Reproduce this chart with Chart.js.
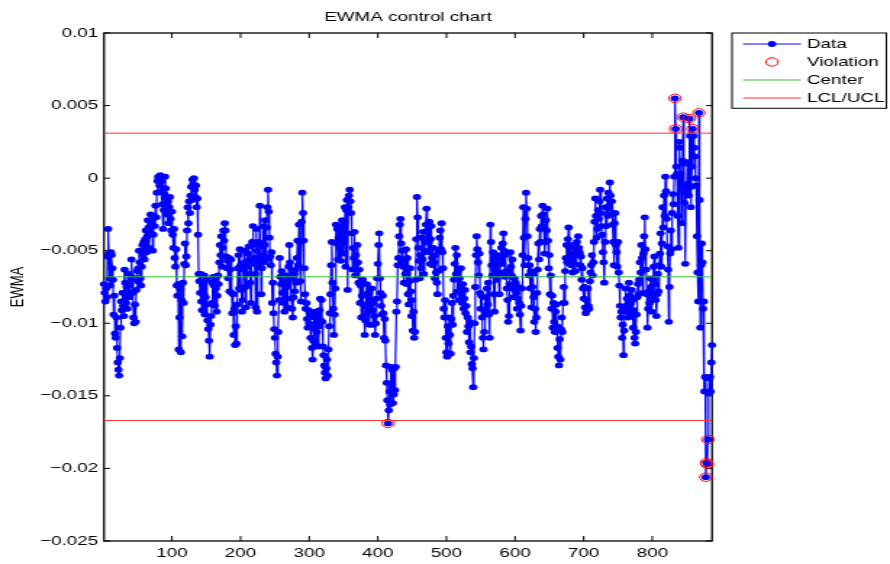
<!DOCTYPE html>
<html><head><meta charset="utf-8">
<script src="https://cdn.jsdelivr.net/npm/chart.js@4.4.1/dist/chart.umd.min.js"></script>
<style>html,body{margin:0;padding:0;background:#fff;overflow:hidden}</style>
</head><body>
<canvas id="c" width="614" height="564" style="width:890px;height:564px;display:block"></canvas>
<script>
// EWMA statistic per sample (sample number = position + 1)
const ewma = [
-.0073,-.0079,-.0085,-.0076,-.0082,-.0054,-.0035,-.0052,-.0069,-.0074,
-.0051,-.0053,-.0062,-.007,-.0094,-.0081,-.0107,-.011,-.0096,-.0117,
-.0127,-.0132,-.0136,-.0124,-.0103,-.0085,-.0091,-.0079,-.0088,-.0095,
-.0063,-.0072,-.0086,-.0075,-.009,-.0078,-.0066,-.0082,-.0074,-.0069,
-.0056,-.0068,-.0079,-.0096,-.01,-.0087,-.0099,-.0077,-.0064,-.0071,
-.0062,-.005,-.0058,-.0069,-.0074,-.0061,-.0046,-.0053,-.0044,-.0056,
-.0042,-.0036,-.0051,-.004,-.0029,-.0034,-.0048,-.0037,-.0025,-.0032,
-.003,-.005,-.0039,-.0026,-.0033,-.0019,-.0027,-.001,-.0002,.0001,
0,-.0005,.0002,-.0009,-.0002,-.0018,-.0035,-.0022,-.0011,.0001,
-.0007,-.0014,-.0025,-.0016,-.0031,-.002,-.0013,-.0028,-.0036,-.0023,
-.0039,-.0048,-.0035,-.0055,-.0061,-.0049,-.0074,-.0081,-.0073,-.0118,
-.0096,-.0076,-.012,-.0084,-.0109,-.0072,-.0086,-.0059,-.0045,-.006,
-.0054,-.0036,-.002,-.0031,-.0016,-.0024,-.0012,-.0006,-.0015,-.0001,
-.0004,0,-.0008,-.0013,-.0005,-.002,-.0014,-.0039,-.0066,-.0071,
-.0079,-.0066,-.0085,-.0091,-.0073,-.008,-.0067,-.0094,-.0082,-.007,
-.0087,-.0098,-.0104,-.0112,-.0123,-.0101,-.0095,-.0086,-.0072,-.0068,
-.0074,-.0088,-.0069,-.0076,-.0092,-.0081,-.0067,-.0073,-.0058,-.0046,
-.0053,-.004,-.0061,-.0048,-.0036,-.0043,-.0031,-.0036,-.0054,-.0062,
-.0057,-.0069,-.0055,-.0078,-.0063,-.0056,-.0079,-.0093,-.008,-.0108,
-.009,-.0115,-.0102,-.0114,-.0087,-.0062,-.0053,-.0076,-.0049,-.006,
-.0077,-.0092,-.0084,-.0063,-.005,-.0058,-.0075,-.0089,-.0066,-.0052,
-.0061,-.0047,-.0056,-.0072,-.0086,-.0059,-.0044,-.0033,-.0046,-.0055,
-.0066,-.0089,-.0035,-.0092,-.005,-.0044,-.006,-.0019,-.0047,-.008,
-.0062,-.0053,-.0033,-.0058,-.0046,-.0029,-.0056,-.0034,-.002,-.0008,
-.0023,-.0041,-.0054,-.006,-.0051,-.0086,-.0072,-.0093,-.0104,-.011,
-.0121,-.0127,-.0136,-.0123,-.0106,-.0084,-.0055,-.0068,-.0073,-.0064,
-.0079,-.0086,-.0071,-.0092,-.0083,-.0067,-.0075,-.0089,-.0072,-.0061,
-.0046,-.0058,-.0069,-.0083,-.009,-.0096,-.0082,-.0066,-.0078,-.0063,
-.0072,-.0055,-.0043,-.006,-.0032,-.0044,-.0071,-.0085,-.003,-.001,
-.0024,-.0043,-.0062,-.008,-.009,-.0086,-.0097,-.0103,-.0091,-.01,
-.0093,-.011,-.0101,-.0117,-.0125,-.0112,-.0096,-.0104,-.0092,-.0115,
-.0106,-.0094,-.0116,-.0102,-.0091,-.0083,-.0098,-.0084,-.0099,-.0116,
-.0122,-.0129,-.0134,-.0138,-.0131,-.0125,-.0136,-.0118,-.0102,-.0093,
-.008,-.006,-.0044,-.0072,-.009,-.0108,-.0094,-.0076,-.0032,-.0045,
-.0035,-.0056,-.0041,-.0033,-.0048,-.0057,-.0039,-.0029,-.0044,-.0052,
-.003,-.002,-.0061,-.0022,-.0015,-.0077,-.002,-.0012,-.0008,-.0016,
-.0024,-.0038,-.0063,-.0048,-.0055,-.0037,-.0067,-.0053,-.0059,-.0046,
-.0058,-.0072,-.0063,-.0086,-.0074,-.0096,-.0081,-.007,-.0087,-.0095,
-.0108,-.0098,-.008,-.0073,-.0089,-.0092,-.0079,-.0101,-.009,-.0084,
-.0076,-.0091,-.0101,-.0086,-.0095,-.0108,-.01,-.0083,-.0069,-.0059,
-.0046,-.0038,-.0069,-.0079,-.0088,-.0094,-.0081,-.0093,-.011,-.0097,
-.0112,-.0129,-.0141,-.0153,-.0169,-.016,-.0147,-.0156,-.013,-.0144,
-.0132,-.0155,-.0149,-.0131,-.0146,-.013,-.0092,-.0085,-.006,-.0055,
-.004,-.0032,-.0028,-.0045,-.0058,-.005,-.0061,-.0072,-.0056,-.0066,
-.0049,-.0073,-.0055,-.008,-.0087,-.0071,-.0062,-.0078,-.0095,-.0084,
-.0105,-.0092,-.011,-.0106,-.007,-.0042,-.0013,-.0027,-.0048,-.0057,
-.0069,-.0053,-.0062,-.0041,-.0056,-.0037,-.0066,-.005,-.0044,-.0032,
-.0021,-.0036,-.0051,-.0044,-.003,-.0059,-.0042,-.0033,-.0055,-.006,
-.0048,-.0058,-.0069,-.0053,-.0065,-.0072,-.008,-.0064,-.005,-.0041,
-.0036,-.0049,-.0031,-.0051,-.0062,-.009,-.0096,-.0084,-.011,-.012,
-.0123,-.0102,-.0114,-.0096,-.0108,-.0121,-.0097,-.0086,-.0101,-.0081,
-.007,-.0059,-.0048,-.0066,-.0053,-.0078,-.0064,-.0084,-.0069,-.0075,
-.0062,-.008,-.0086,-.0073,-.009,-.0083,-.0077,-.0093,-.0088,-.0106,
-.0096,-.0102,-.0113,-.0099,-.012,-.0116,-.0128,-.0131,-.0144,-.0124,
-.01,-.0075,-.0053,-.004,-.0049,-.0058,-.0067,-.0052,-.0079,-.009,
-.0081,-.0096,-.011,-.0118,-.0106,-.0093,-.0082,-.0091,-.0076,-.0087,
-.0072,-.0094,-.011,-.0032,-.0044,-.006,-.0067,-.0051,-.008,-.0092,
-.0063,-.0054,-.007,-.006,-.0053,-.0066,-.008,-.0065,-.0055,-.0048,
-.0059,-.0045,-.0038,-.005,-.0068,-.0053,-.0064,-.0076,-.0084,-.0099,
-.0095,-.0073,-.0051,-.0061,-.0067,-.0056,-.0076,-.0082,-.0069,-.0077,
-.0072,-.0079,-.009,-.0083,-.0075,-.0086,-.0094,-.0105,-.0088,-.0076,
-.0053,-.002,-.0041,-.006,-.0028,-.001,-.0021,-.004,-.0055,-.0067,
-.006,-.0076,-.0064,-.0089,-.0075,-.0066,-.0082,-.0099,-.009,-.0106,
-.0096,-.0079,-.0063,-.0045,-.0056,-.0035,-.0044,-.0026,-.0033,-.0019,
-.0025,-.0034,-.0052,-.0044,-.0029,-.0036,-.0021,-.0043,-.0062,-.0053,
-.008,-.0067,-.009,-.0081,-.0103,-.0086,-.0099,-.0106,-.0092,-.0087,
-.0102,-.0117,-.0123,-.0129,-.0111,-.0125,-.0104,-.0096,-.0106,-.0086,
-.0075,-.0086,-.0064,-.0055,-.0046,-.0058,-.0042,-.0034,-.0048,-.0059,
-.0046,-.006,-.0052,-.0065,-.0056,-.0047,-.0059,-.0064,-.005,-.0044,
-.0053,-.004,-.0048,-.0051,-.006,-.0054,-.007,-.0062,-.0076,-.0083,
-.0075,-.0089,-.0093,-.0084,-.0091,-.0076,-.0088,-.009,-.0071,-.0065,
-.006,-.0053,-.0067,-.0058,-.0044,-.003,-.0014,-.0026,-.0041,-.0035,
-.0022,-.0028,-.0016,-.0008,-.0024,-.0033,-.0039,-.0051,-.0058,-.0072,
-.0044,-.002,-.0033,-.0014,-.0026,-.001,-.0021,-.0003,-.0012,-.0025,
-.0016,-.0032,-.0044,-.006,-.0031,-.0024,-.0046,-.0051,-.0061,-.0044,
-.0065,-.0074,-.0088,-.0096,-.0092,-.011,-.0101,-.0122,-.0105,-.0089,
-.0076,-.0092,-.0083,-.0087,-.0096,-.0072,-.0081,-.0094,-.0086,-.0077,
-.0084,-.0103,-.0091,-.011,-.0114,-.0106,-.0094,-.0082,-.0073,-.008,
-.007,-.0058,-.0065,-.0046,-.0055,-.0079,-.0052,-.004,-.0027,-.0049,
-.0063,-.008,-.0103,-.009,-.0078,-.0086,-.0069,-.0075,-.0092,-.0081,
-.007,-.0061,-.0054,-.0073,-.0084,-.0095,-.008,-.0066,-.0078,-.006,
-.0052,-.0038,-.0061,-.0045,-.002,-.0034,-.0012,-.0026,.0001,-.0009,
-.0028,-.0047,-.0063,-.0099,-.0075,-.0052,-.0036,-.0049,-.0024,-.0011,
-.0018,.0001,.0055,.0034,.0008,.0003,-.0026,-.0048,.0025,.0021,
.0003,-.0006,-.0031,.0012,.0042,.001,-.0017,-.0059,-.0005,-.001,
.0011,-.0004,-.0012,.0041,.0029,-.002,-.0006,.0008,.0034,.0029,
.0021,.0015,0,-.0005,-.004,-.0065,-.0085,.0045,-.0015,-.0103,
-.006,-.0045,-.0058,-.009,-.0085,-.0147,-.0137,-.0206,-.0196,-.0197,
-.018,-.0148,-.0138,-.0137,-.0147,-.0127,-.0115
];
const centerValue = -0.0068;
const uclValue = 0.0031;
const lclValue = -0.0167;
const xTicks = [100, 200, 300, 400, 500, 600, 700, 800];
const yTicks = [-0.025, -0.02, -0.015, -0.01, -0.005, 0, 0.005, 0.01];
const legendLabels = ['Data', 'Violation', 'Center', 'LCL/UCL'];
const chartTitle = 'EWMA control chart';
const yAxisTitle = 'EWMA';

const N = ewma.length;
const FONT = "'Liberation Sans', Arial, Helvetica, sans-serif";
const SX = 890 / 614;               // horizontal stretch of the displayed canvas
const BLUE = '#0000ff', RED = '#ff0000', GREEN = '#2fbf2f', LIMIT = '#ff3030';

const dataPts = ewma.map((v, i) => ({x: i + 1, y: v}));
const violPts = dataPts.filter(p => p.y > uclValue || p.y < lclValue);

const fmtY = v => String(Math.round(v * 1000) / 1000).replace('-', '\u2212');

const framePlugin = {
  id: 'frame',
  beforeDatasetsDraw(chart) {
    const {ctx, chartArea: a, scales: {x, y}} = chart;
    ctx.save();
    ctx.strokeStyle = '#000';
    ctx.lineWidth = 1.3;
    ctx.strokeRect(a.left, a.top, a.right - a.left, a.bottom - a.top);
    ctx.lineWidth = 1;
    ctx.beginPath();
    const tv = 5, th = 6 / SX;
    x.ticks.forEach(t => {
      const px = x.getPixelForValue(t.value);
      ctx.moveTo(px, a.bottom); ctx.lineTo(px, a.bottom - tv);
      ctx.moveTo(px, a.top); ctx.lineTo(px, a.top + tv);
    });
    y.ticks.forEach(t => {
      const py = y.getPixelForValue(t.value);
      ctx.moveTo(a.left, py); ctx.lineTo(a.left + th, py);
      ctx.moveTo(a.right, py); ctx.lineTo(a.right - th, py);
    });
    ctx.stroke();
    ctx.restore();
  },
  afterDraw(chart) {
    const ctx = chart.ctx;
    ctx.save();
    const L = {left: 505, top: 33, right: 611.5, bottom: 108.3};
    ctx.fillStyle = '#fff';
    ctx.fillRect(L.left, L.top, L.right - L.left, L.bottom - L.top);
    ctx.strokeStyle = '#000';
    ctx.lineWidth = 1;
    ctx.strokeRect(L.left, L.top, L.right - L.left, L.bottom - L.top);
    const rows = [44, 62, 80, 98];
    const x0 = 512.6, x1 = 552.6, xm = 532.6, xt = 556.7;
    ctx.strokeStyle = BLUE; ctx.lineWidth = 1.2;
    ctx.beginPath(); ctx.moveTo(x0, rows[0]); ctx.lineTo(x1, rows[0]); ctx.stroke();
    ctx.fillStyle = BLUE; ctx.beginPath(); ctx.arc(xm, rows[0], 2.9, 0, Math.PI * 2); ctx.fill();
    ctx.lineWidth = 1;
    ctx.strokeStyle = RED; ctx.beginPath(); ctx.arc(xm, rows[1], 4.2, 0, Math.PI * 2); ctx.stroke();
    ctx.strokeStyle = GREEN; ctx.beginPath(); ctx.moveTo(x0, rows[2]); ctx.lineTo(x1, rows[2]); ctx.stroke();
    ctx.strokeStyle = LIMIT; ctx.beginPath(); ctx.moveTo(x0, rows[3]); ctx.lineTo(x1, rows[3]); ctx.stroke();
    ctx.fillStyle = '#000';
    ctx.font = '13px ' + FONT;
    ctx.textBaseline = 'middle';
    ctx.textAlign = 'left';
    legendLabels.forEach((t, i) => ctx.fillText(t, xt, rows[i] + 0.5));
    ctx.restore();
  }
};

new Chart(document.getElementById('c'), {
  type: 'line',
  data: {
    datasets: [
      {label: 'Data', data: dataPts, borderColor: BLUE, backgroundColor: BLUE, borderWidth: 1.2,
       pointRadius: 2.9, pointBorderWidth: 0, pointBackgroundColor: BLUE, tension: 0, order: 3, clip: false},
      {label: 'Violation', data: violPts, showLine: false, pointRadius: 4.2, pointBorderWidth: 1,
       pointBorderColor: RED, pointBackgroundColor: 'rgba(0,0,0,0)', borderColor: RED, order: 2, clip: false},
      {label: 'Center', data: [{x: 1, y: centerValue}, {x: N, y: centerValue}], borderColor: GREEN,
       borderWidth: 1, pointRadius: 0, order: 1},
      {label: 'UCL', data: [{x: 1, y: uclValue}, {x: N, y: uclValue}], borderColor: LIMIT,
       borderWidth: 1, pointRadius: 0, order: 0},
      {label: 'LCL', data: [{x: 1, y: lclValue}, {x: N, y: lclValue}], borderColor: LIMIT,
       borderWidth: 1, pointRadius: 0, order: 0}
    ]
  },
  options: {
    responsive: false,
    animation: false,
    devicePixelRatio: 1,
    events: [],
    layout: {padding: {left: 0, right: 614 - 491.2, top: 0, bottom: 0}},
    plugins: {
      legend: {display: false},
      tooltip: {enabled: false},
      title: {display: true, text: chartTitle, fullSize: false, color: '#000',
              font: {family: FONT, size: 13, weight: 'normal'}, padding: {top: 9.2, bottom: 8.2}}
    },
    scales: {
      x: {
        type: 'linear', min: 1, max: N,
        grid: {display: false, drawTicks: false},
        border: {display: false},
        ticks: {color: '#000', font: {family: FONT, size: 13}, padding: 4.5, autoSkip: false, maxRotation: 0,
                callback: v => String(v)},
        afterBuildTicks: s => { s.ticks = xTicks.map(v => ({value: v})); },
        afterFit: s => { s.height = 23; }
      },
      y: {
        type: 'linear', min: -0.025, max: 0.01,
        grid: {display: false, drawTicks: false},
        border: {display: false},
        ticks: {color: '#000', font: {family: FONT, size: 13}, padding: 4, callback: v => fmtY(v)},
        afterBuildTicks: s => { s.ticks = yTicks.map(v => ({value: v})); },
        afterFit: s => { s.width = 71.75; },
        title: {display: true, text: yAxisTitle, color: '#000', font: {family: FONT, size: 13},
                padding: {top: 4.6, bottom: 0}}
      }
    }
  },
  plugins: [framePlugin]
});
</script>
</body></html>
